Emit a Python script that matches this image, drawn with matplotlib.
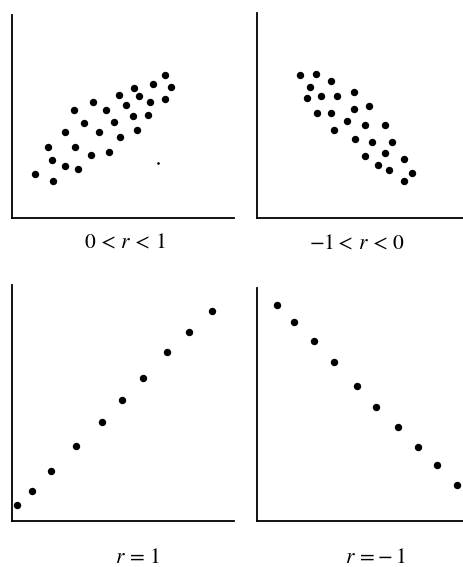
import matplotlib
matplotlib.use("Agg")
import matplotlib.pyplot as plt

plt.rcParams['mathtext.fontset'] = 'stix'
plt.rcParams['font.family'] = ['STIXGeneral', 'Liberation Serif', 'DejaVu Serif']

# Panel data (positions, arbitrary units)
p1_x = [153, 159, 141, 122, 107, 127, 153, 138, 114, 81, 62, 94, 121, 136, 102, 72, 53, 87, 125, 108,
        36, 63, 79, 97, 40, 53, 66, 23, 41]
p1_y = [143, 131, 134, 130, 123, 122, 119, 116, 113, 116, 108, 108, 102, 103, 96, 95, 86, 86, 88, 81,
        71, 71, 63, 66, 58, 52, 49, 44, 37]
p1_tiny_x = [146]
p1_tiny_y = [55]

p2_x = [43, 59, 74, 53, 50, 64, 80, 97, 60, 74, 97, 112, 90, 108, 128, 77, 98, 115, 135, 108, 128,
        147, 121, 132, 155, 147]
p2_y = [143, 144, 137, 131, 120, 122, 122, 126, 105, 105, 109, 112, 97, 93, 93, 88, 79, 76, 76, 62, 65,
        59, 53, 48, 45, 37]

p3_x = [5, 20, 39, 64, 90, 110, 131, 155, 177, 200]
p3_y = [16, 30, 50, 75, 99, 121, 143, 169, 189, 210]

p4_x = [20, 37, 57, 77, 100, 119, 141, 161, 180, 200]
p4_y = [216, 199, 180, 159, 135, 114, 94, 74, 56, 36]

labels = [r'$0\,<\,r\,<\,1$', r'$-1<\,r\,<\,0$', r'$r\,=\,1$', r'$r\,=\!-1$']

W, H = 464, 567
fig = plt.figure(figsize=(W / 100, H / 100), dpi=100)

# axes boxes in pixels: left, bottom(from bottom), width, height
boxes = [
    (12.3, 348.7, 222, 203),
    (257, 348.7, 207, 205),
    (12.3, 46.3, 222, 235.7),
    (257, 46.3, 207, 232.4),
]
label_pos = [(125, 244), (357, 245), (137.5, 558), (375.5, 558)]
data = [(p1_x, p1_y), (p2_x, p2_y), (p3_x, p3_y), (p4_x, p4_y)]

for i, ((l, b, w, h), (xs, ys)) in enumerate(zip(boxes, data)):
    ax = fig.add_axes([l / W, b / H, w / W, h / H])
    ax.set_xlim(0, w)
    ax.set_ylim(0, h)
    for s in ['top', 'right']:
        ax.spines[s].set_visible(False)
    for s in ['left', 'bottom']:
        ax.spines[s].set_linewidth(1.3)
        ax.spines[s].set_color('black')
    ax.set_xticks([])
    ax.set_yticks([])
    ax.plot(xs, ys, 'o', color='black', markersize=4.3, clip_on=False)
    if i == 0:
        ax.plot(p1_tiny_x, p1_tiny_y, 'o', color='black', markersize=0.9)
    ax.patch.set_alpha(0)
    lx, ly = label_pos[i]
    fig.text(lx / W, 1 - ly / H, labels[i], ha='center', va='center', fontsize=15.5)

fig.savefig('out.png', dpi=100, facecolor='white')
